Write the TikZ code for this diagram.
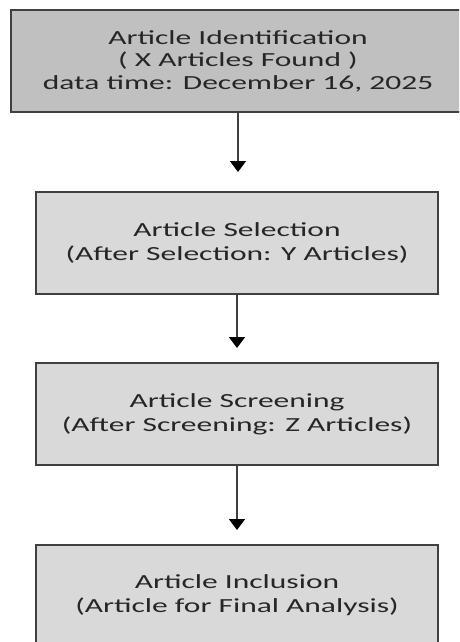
\documentclass[tikz,border=0pt]{standalone}
\usepackage{fontspec}
\newfontfamily\boxfont[FakeStretch=1.575]{Carlito}
\usetikzlibrary{arrows.meta}
\definecolor{topfill}{HTML}{C0C0C0}
\definecolor{boxfill}{HTML}{D9D9D9}
\definecolor{edgegray}{HTML}{404040}
\definecolor{textgray}{HTML}{262626}
\tikzset{
  stagebox/.style={draw=edgegray, line width=2pt, fill=boxfill, rectangle,
    minimum width=402pt, minimum height=102pt, inner sep=0pt, align=center,
    text=textgray, font=\boxfont\fontsize{20}{24}\selectfont},
  topbox/.style={stagebox, fill=topfill, minimum width=454pt,
    font=\boxfont\fontsize{20}{22.5}\selectfont},
  flow/.style={draw=edgegray, line width=1.5pt,
    -{Triangle[width=16pt,length=11pt,fill=black,color=black]}}
}
\begin{document}
\begin{tikzpicture}[x=1pt,y=1pt]
\useasboundingbox (0,0) rectangle (459,-642);
\clip (0,0) rectangle (459,-642);
\node[topbox] (ident) at (238,-61) {Article Identification\\( X Articles Found )\\data time: December 16, 2025};
\node[stagebox] (select) at (237,-243) {Article Selection\\(After Selection: Y Articles)};
\node[stagebox] (screen) at (237,-414) {Article Screening\\(After Screening: Z Articles)};
\node[stagebox, minimum height=100pt] (incl) at (237,-595) {Article Inclusion\\(Article for Final Analysis)};
\draw[flow, shorten >=19pt] (ident.south) -- (ident.south |- select.north);
\draw[flow, shorten >=14pt] (select.south) -- (select.south |- screen.north);
\draw[flow, shorten >=14pt] (screen.south) -- (screen.south |- incl.north);
\end{tikzpicture}
\end{document}
